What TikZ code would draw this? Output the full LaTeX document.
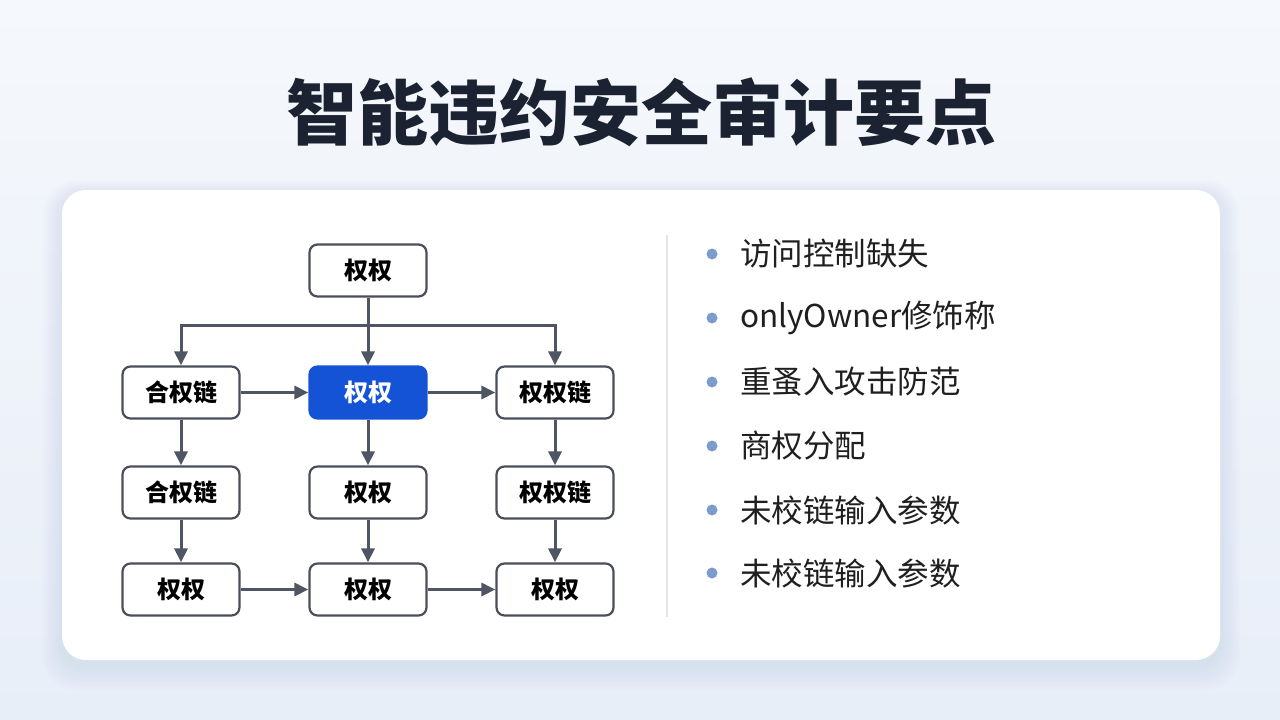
\documentclass[tikz,border=0pt]{standalone}
\usepackage{fontspec}
\newfontfamily\cjk{Noto Sans CJK SC}
\usetikzlibrary{arrows.meta}
\definecolor{bgtop}{HTML}{F5F8FC}
\definecolor{bgbot}{HTML}{E8EEF8}
\definecolor{titlec}{HTML}{1B2232}
\definecolor{boxline}{HTML}{4A4F5A}
\definecolor{arrowc}{HTML}{4F5563}
\definecolor{hlblue}{HTML}{1553D6}
\definecolor{sepc}{HTML}{E2E6EC}
\definecolor{bulletc}{HTML}{7C9CCB}
\definecolor{textc}{HTML}{1F1F1F}
\definecolor{shadowc}{HTML}{B8C8E6}
\tikzset{
  box/.style={draw=boxline, line width=2.2pt, rounded corners=8pt, fill=white,
    minimum width=117pt, minimum height=52pt, inner sep=0pt,
    font=\cjk\bfseries\fontsize{24}{28}\selectfont, text=black},
  hlbox/.style={box, fill=hlblue, draw=hlblue, text=white},
  arr/.style={-{Triangle[length=14pt,width=13pt]}, line width=3pt, draw=arrowc},
  item/.style={anchor=west, inner sep=0pt, text=textc, font=\cjk\fontsize{31.5}{36}\selectfont},
  dot/.style={circle, fill=bulletc, minimum size=11pt, inner sep=0pt}
}
\begin{document}
\begin{tikzpicture}[x=1pt,y=-1pt]
\useasboundingbox (0,0) rectangle (1280,720);
\shade[top color=bgtop, bottom color=bgbot] (0,0) rectangle (1280,720);
% card shadow
\foreach \i in {1,...,10}{
  \fill[shadowc, opacity=0.03, rounded corners={24pt+\i pt}] (62-\i*2,190-\i*1.5+5) rectangle (1220+\i*2,660+\i*2.5+5);
}
\fill[white, rounded corners=24pt] (62,190) rectangle (1220,660);
% title
\node[text=titlec, font=\cjk\bfseries\fontsize{71}{76}\selectfont, inner sep=0pt] (title) at (641,112) {智能违约安全审计要点};
% diagram nodes
\node[box] (top) at (368,270.5) {权权};
\node[box] (a1) at (181,392.5) {合权链};
\node[hlbox] (b1) at (368,392.5) {权权};
\node[box] (c1) at (555,392.5) {权权链};
\node[box] (a2) at (181,492.5) {合权链};
\node[box] (b2) at (368,492.5) {权权};
\node[box] (c2) at (555,492.5) {权权链};
\node[box] (a3) at (181,589.5) {权权};
\node[box] (b3) at (368,589.5) {权权};
\node[box] (c3) at (555,589.5) {权权};
\coordinate (j) at (368,325);
% connectors
\draw[arr] (top.south) -- (j) -| (a1.north);
\draw[arr] (top.south) -- (j) -| (c1.north);
\draw[arr] (top.south) -- (b1.north);
\draw[arr] (a1) -- (b1);
\draw[arr] (b1) -- (c1);
\draw[arr] (a1) -- (a2);
\draw[arr] (b1) -- (b2);
\draw[arr] (c1) -- (c2);
\draw[arr] (a2) -- (a3);
\draw[arr] (b2) -- (b3);
\draw[arr] (c2) -- (c3);
\draw[arr] (a3) -- (b3);
\draw[arr] (b3) -- (c3);
% separator
\draw[sepc, line width=1.5pt] (667,235) -- (667,617);
% bullet list
\foreach \y/\t [count=\k] in {254/访问控制缺失, 318/onlyOwner修饰称, 382/重蚤入攻击防范, 446/商权分配, 510/未校链输入参数, 573/未校链输入参数}{
  \node[dot] (d\k) at (712,\y) {};
  \node[item] (t\k) at (740,\y) {\t};
}
\end{tikzpicture}
\end{document}
